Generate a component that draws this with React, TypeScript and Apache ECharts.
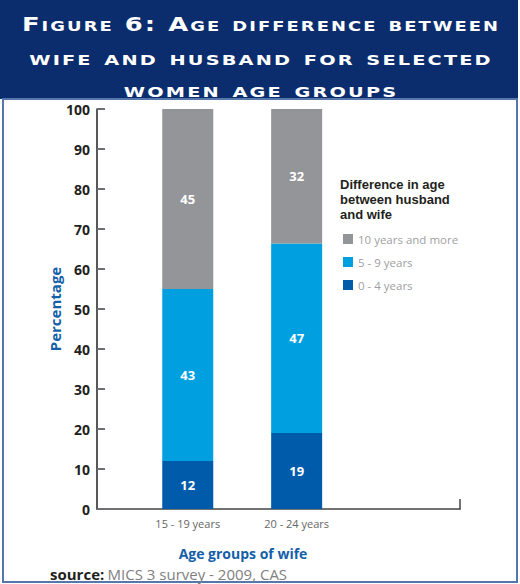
import React, { useEffect, useRef } from 'react';
import * as echarts from 'echarts';

const titleLines = ['Figure 6: Age difference between', 'wife and husband for selected', 'women age groups'];
const categories = ['15 - 19 years', '20 - 24 years'];
const seriesNames = ['0 - 4 years', '5 - 9 years', '10 years and more'];
const values0to4 = [12, 19];
const values5to9 = [43, 47.4];
const values10plus = [45, 33.6];
const labels0to4 = ['12', '19'];
const labels5to9 = ['43', '47'];
const labels10plus = ['45', '32'];
const legendTitle = ['Difference in age', 'between husband', 'and wife'];
const xAxisName = 'Age groups of wife';
const yAxisName = 'Percentage';
const sourceBold = 'source:';
const sourceText = 'MICS 3 survey - 2009, CAS';

const COLORS = ['#005baa', '#009fdf', '#939598'];
const FONT = '"Open Sans", "Noto Sans", sans-serif';

export default function App() {
  const ref = useRef<HTMLDivElement>(null);
  useEffect(() => {
    if (!ref.current) return;
    const chart = echarts.init(ref.current, undefined, { renderer: 'svg' });
    const slotCount = 10;
    const slots = [2, 5];
    const xData: string[] = new Array(slotCount).fill('');
    slots.forEach((s, i) => (xData[s] = categories[i]));
    const valueSets = [values0to4, values5to9, values10plus];
    const labelSets = [labels0to4, labels5to9, labels10plus];

    const series = seriesNames.map((name, si) => ({
      name,
      type: 'bar',
      stack: 'total',
      barWidth: 51,
      itemStyle: { color: COLORS[si] },
      label: {
        show: true,
        position: 'inside',
        color: '#ffffff',
        fontWeight: 'bold',
        fontSize: 13,
        fontFamily: FONT,
        formatter: (p: any) => labelSets[si][p.dataIndex],
      },
      data: valueSets[si].map((v, i) => [slots[i], v]),
    }));

    const titleFamily = '"DejaVu Sans"; font-variant: small-caps; letter-spacing: 1.6px';
    const titleScale = [1.29, 1.35, 1.35];

    chart.setOption({
      animation: false,
      grid: { left: 97, right: 60, top: 109, bottom: 75, outerBoundsMode: 'none' },
      legend: {
        orient: 'vertical',
        left: 338,
        top: 228,
        itemWidth: 10,
        itemHeight: 10,
        itemGap: 11,
        icon: 'rect',
        data: [seriesNames[2], seriesNames[1], seriesNames[0]],
        textStyle: { color: '#a0a0a3', fontSize: 11.5, fontFamily: FONT },
      },
      xAxis: {
        type: 'category',
        data: xData,
        axisLine: { show: true, lineStyle: { color: '#444', width: 1.5 } },
        axisTick: { show: false },
        axisLabel: { interval: 0, color: '#666', fontSize: 11, fontFamily: FONT, margin: 9 },
      },
      yAxis: {
        type: 'value',
        min: 0,
        max: 100,
        interval: 10,
        name: yAxisName,
        nameLocation: 'middle',
        nameGap: 35,
        nameMoveOverlap: false,
        nameTextStyle: { color: '#155fa8', fontWeight: 'bold', fontSize: 15, fontFamily: FONT },
        splitLine: { show: false },
        axisLine: { show: true, lineStyle: { color: '#231f20', width: 1.5 } },
        axisTick: { show: true, inside: true, length: 8, lineStyle: { color: '#6d6e71', width: 2 } },
        axisLabel: { color: '#231f20', fontWeight: 'bold', fontSize: 14, fontFamily: FONT, margin: 7 },
      },
      graphic: [
        { type: 'rect', shape: { x: 0, y: 0, width: 518, height: 99 }, style: { fill: '#0b2d6e' }, z: 10 },
        { type: 'rect', shape: { x: 3, y: 99, width: 514, height: 483 }, style: { fill: 'none', stroke: '#5677ab', lineWidth: 2 }, z: 10 },
        ...titleLines.map((t, i) => ({
          type: 'text',
          x: 261,
          y: [24, 58, 90][i],
          scaleX: titleScale[i],
          z: 11,
          style: {
            text: t,
            fontSize: 20,
            fontWeight: 'bold',
            fontFamily: titleFamily,
            fill: '#ffffff',
            textAlign: 'center',
            textVerticalAlign: 'middle',
          },
        })),
        {
          type: 'text',
          x: 340,
          y: 176.5,
          z: 11,
          style: {
            text: legendTitle.join('\n'),
            fill: '#231f20',
            fontSize: 13,
            fontWeight: 'bold',
            fontFamily: '"Liberation Sans", Arial, sans-serif',
            lineHeight: 15,
            textVerticalAlign: 'top',
          },
        },
        {
          type: 'text',
          x: 243,
          y: 553,
          z: 11,
          style: { text: xAxisName, fill: '#155fa8', fontSize: 14, fontWeight: 'bold', fontFamily: FONT, textAlign: 'center', textVerticalAlign: 'middle' },
        },
        {
          type: 'text',
          x: 50,
          y: 574,
          z: 11,
          style: {
            text: `{b|${sourceBold}} {r|${sourceText}}`,
            textVerticalAlign: 'middle',
            rich: {
              b: { fill: '#231f20', fontSize: 15, fontWeight: 'bold', fontFamily: FONT },
              r: { fill: '#808080', fontSize: 15, fontFamily: FONT },
            },
          },
        },
        { type: 'line', shape: { x1: 460, y1: 499, x2: 460, y2: 509.5 }, style: { stroke: '#444', lineWidth: 1.5 }, z: 11 },
      ],
      series,
    });
    return () => chart.dispose();
  }, []);
  return <div ref={ref} style={{ position: 'fixed', left: 0, top: 0, width: 520, height: 584, background: '#fff' }} />;
}
